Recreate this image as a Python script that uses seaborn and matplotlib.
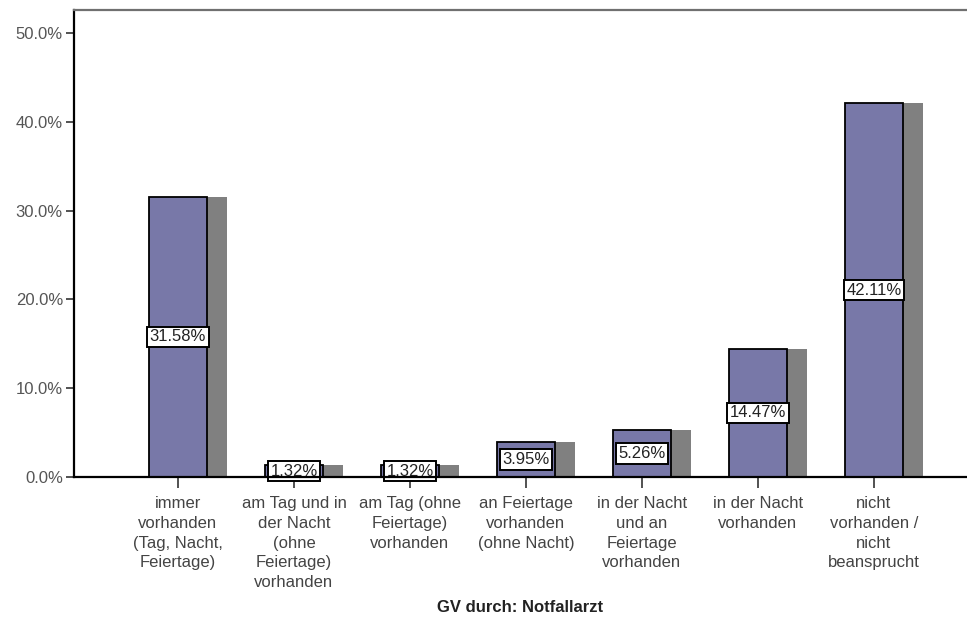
import matplotlib
matplotlib.use("Agg")
import matplotlib.pyplot as plt
import seaborn as sns
import numpy as np
import pandas as pd

categories = [
    "immer\nvorhanden\n(Tag, Nacht,\nFeiertage)",
    "am Tag und in\nder Nacht\n(ohne\nFeiertage)\nvorhanden",
    "am Tag (ohne\nFeiertage)\nvorhanden",
    "an Feiertage\nvorhanden\n(ohne Nacht)",
    "in der Nacht\nund an\nFeiertage\nvorhanden",
    "in der Nacht\nvorhanden",
    "nicht\nvorhanden /\nnicht\nbeansprucht",
]
percent = [31.58, 1.32, 1.32, 3.95, 5.26, 14.47, 42.11]
yticks = [0, 10, 20, 30, 40, 50]
xlabel = "GV durch: Notfallarzt"

sns.set_style("white")
plt.rcParams["font.family"] = ["Liberation Sans", "DejaVu Sans"]

df = pd.DataFrame({"cat": categories, "pct": percent})

fig = plt.figure(figsize=(9.67, 6.19), dpi=100)
ax = fig.add_axes([74 / 967, 1 - 477 / 619, (967 - 74) / 967, (477 - 10) / 619])

bar_w = 0.5
offset = 0.175
ax.bar(np.arange(len(percent)) + offset, percent, width=bar_w,
       color="#808080", edgecolor="none", zorder=1)
sns.barplot(data=df, x="cat", y="pct", ax=ax, color="#7878A8",
            saturation=1, width=bar_w, edgecolor="black", linewidth=1.3,
            zorder=2)

for i, v in enumerate(percent):
    ax.text(i, v / 2, f"{v:.2f}%", ha="center", va="center", fontsize=12,
            color="#222222", zorder=5,
            bbox=dict(boxstyle="square,pad=0.16", fc="white", ec="black", lw=1.4))

ax.set_xlim((74 - 178) / 116, (967 - 178) / 116)
ax.set_ylim(0, (477 - 10) / 88.8 * 10)
ax.set_yticks(yticks)
ax.set_yticklabels([f"{t:.1f}%" for t in yticks], fontsize=12, color="#555555")
ax.set_xticks(range(len(categories)))
ax.set_xticklabels(categories, fontsize=12, color="#444444", linespacing=1.38)
ax.set_xlabel(xlabel, fontsize=12, fontweight="bold", color="#222222")
ax.xaxis.set_label_coords(0.5, (477 - 607) / 467)
ax.xaxis.label.set_va("center")
ax.set_ylabel("")

ax.tick_params(axis="y", direction="out", length=6, width=1.2, color="#333333", pad=2, left=True)
ax.tick_params(axis="x", direction="out", length=8, width=1.2, color="#333333", pad=6, bottom=True)

for s in ["left", "bottom"]:
    ax.spines[s].set_color("black")
    ax.spines[s].set_linewidth(1.6)
ax.spines["top"].set_color("#707070")
ax.spines["top"].set_linewidth(1.6)
ax.spines["right"].set_visible(False)
ax.spines["bottom"].set_zorder(6)

fig.savefig("out.png", dpi=100)
